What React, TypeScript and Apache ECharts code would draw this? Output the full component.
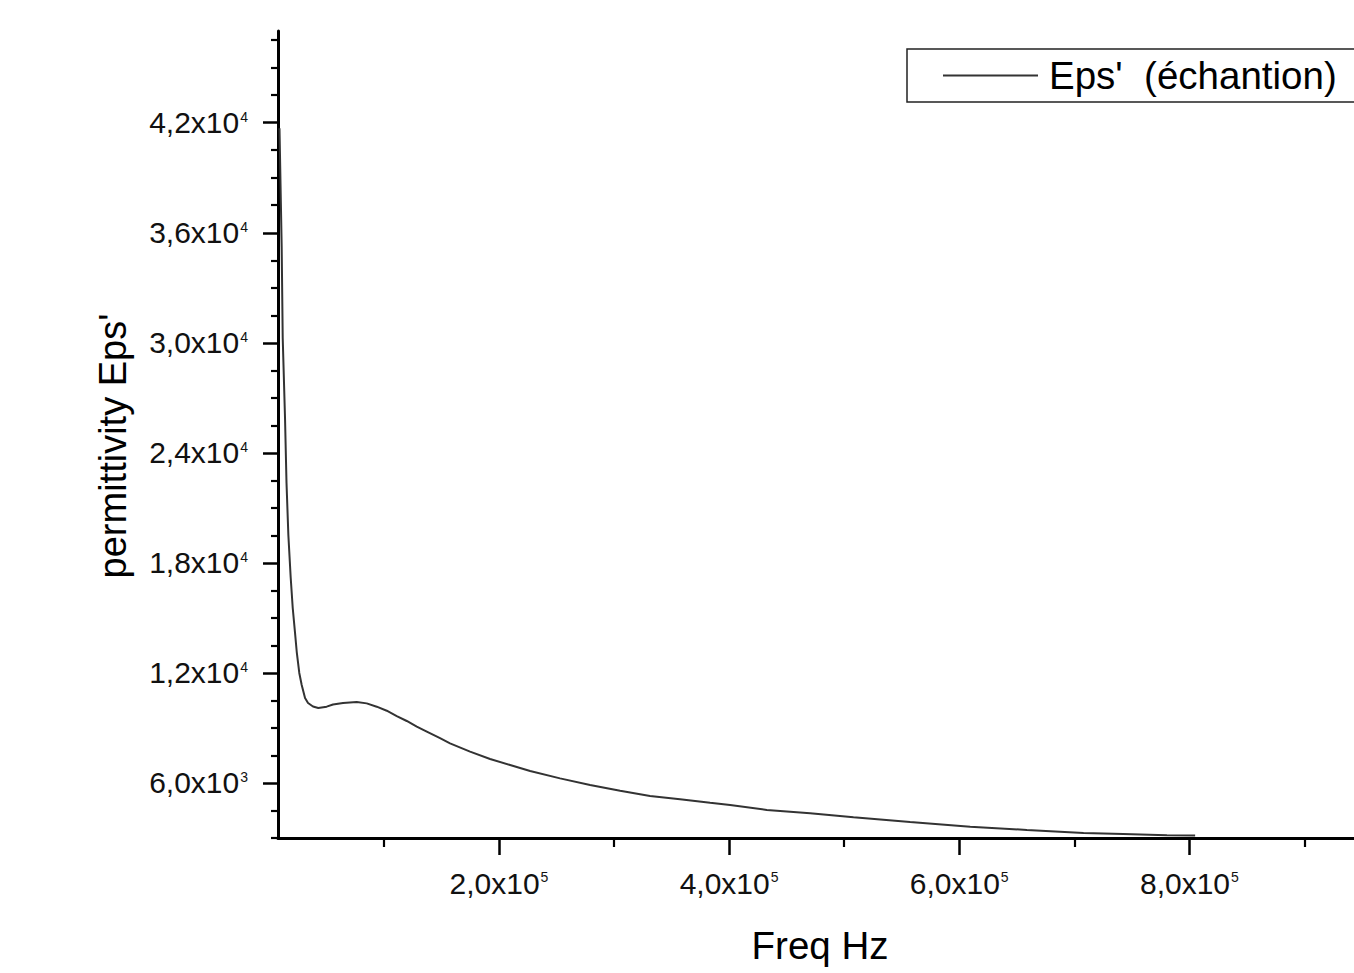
import React, { useEffect, useRef } from "react";
import * as echarts from "echarts";

const freq = [9300, 11200, 12100, 14100, 15400, 17000, 19000, 20800, 22800, 24300, 26500, 28600, 31500, 34100, 38400, 43000, 50300, 55800, 64500, 76400, 85100, 93800, 102500, 111200, 119900, 128600, 137300, 148800, 157500, 174900, 192300, 209700, 227100, 253100, 279200, 305300, 331300, 357400, 383500, 400900, 432800, 470400, 508100, 557300, 609500, 658800, 708000, 742500, 780500, 805000];
const eps = [41700, 35220, 30260, 25900, 22350, 19520, 17230, 15540, 14180, 13140, 12000, 11340, 10630, 10360, 10170, 10090, 10160, 10280, 10360, 10410, 10340, 10160, 9940, 9650, 9380, 9070, 8800, 8440, 8160, 7710, 7310, 6980, 6650, 6250, 5890, 5580, 5290, 5110, 4920, 4800, 4530, 4350, 4130, 3870, 3620, 3440, 3270, 3220, 3150, 3140];

const xMajor = [200000, 400000, 600000, 800000];
const xMinor = [100000, 300000, 500000, 700000, 900000];
const yMajor = [6000, 12000, 18000, 24000, 30000, 36000, 42000];
const yMinor = [3000, 4500, 7500, 9000, 10500, 13500, 15000, 16500, 19500, 21000, 22500, 25500, 27000, 28500, 31500, 33000, 34500, 37500, 39000, 40500, 43500, 45000, 46500];

const seriesName = "Eps'  (échantion)";
const xName = "Freq Hz";
const yName = "permittivity Eps'";

const FONT = "'Liberation Sans', Arial, sans-serif";

function sci(v: number): string {
  const e = Math.floor(Math.log10(v) + 1e-9);
  const m = (v / Math.pow(10, e)).toFixed(1).replace(".", ",");
  return `{m|${m}x10}{s|${e}}`;
}

const rich = {
  m: { fontSize: 30, color: "#111", fontFamily: FONT },
  s: { fontSize: 14, color: "#111", fontFamily: FONT, padding: [0, 0, 12, 1] },
};

export default function App() {
  const ref = useRef<HTMLDivElement>(null);
  useEffect(() => {
    if (!ref.current) return;
    const chart = echarts.init(ref.current, undefined, { renderer: "svg" });
    const axisLineStyle = { color: "#000", width: 3 };
    chart.setOption({
      animation: false,
      backgroundColor: "#fff",
      grid: { left: 278, top: 31, right: 0, bottom: 135 },
      legend: {
        show: true,
        left: 907,
        top: 49,
        orient: "horizontal",
        borderColor: "#222",
        borderWidth: 1.5,
        borderRadius: 0,
        padding: [7, 30, 7, 35],
        itemWidth: 95,
        itemHeight: 20,
        itemStyle: { opacity: 0 },
        lineStyle: { color: "#333", width: 2 },
        textStyle: { fontSize: 38.5, color: "#000", fontFamily: FONT, padding: [0, 0, 0, 6] },
        data: [seriesName],
      },
      xAxis: [
        {
          type: "value",
          min: 8000,
          max: 950000,
          name: xName,
          nameLocation: "middle",
          nameGap: 88,
          nameTextStyle: { fontSize: 38.5, color: "#000", fontFamily: FONT },
          axisLine: { show: true, onZero: false, lineStyle: axisLineStyle },
          axisTick: { show: true, customValues: xMajor, length: 17, lineStyle: { color: "#000", width: 2.5 } },
          axisLabel: { customValues: xMajor, formatter: (v: number) => sci(v), margin: 30, rich },
          splitLine: { show: false },
        },
        {
          type: "value",
          min: 8000,
          max: 950000,
          position: "bottom",
          axisLine: { show: false, onZero: false },
          axisTick: { show: true, customValues: xMinor, length: 9, lineStyle: { color: "#000", width: 2.2 } },
          axisLabel: { show: false },
          splitLine: { show: false },
        },
      ],
      yAxis: [
        {
          type: "value",
          min: 3000,
          max: 47000,
          name: yName,
          nameLocation: "middle",
          nameGap: 146,
          nameTextStyle: { fontSize: 38, color: "#000", fontFamily: FONT, padding: [0, 23, 0, 0] },
          axisLine: { show: true, onZero: false, lineStyle: axisLineStyle },
          axisTick: { show: true, customValues: yMajor, length: 15, lineStyle: { color: "#000", width: 2.5 } },
          axisLabel: { customValues: yMajor, formatter: (v: number) => sci(v), margin: 30, rich },
          splitLine: { show: false },
        },
        {
          type: "value",
          min: 3000,
          max: 47000,
          position: "left",
          axisLine: { show: false, onZero: false },
          axisTick: { show: true, customValues: yMinor, length: 7, lineStyle: { color: "#000", width: 2.2 } },
          axisLabel: { show: false },
          splitLine: { show: false },
        },
      ],
      series: [
        {
          name: seriesName,
          type: "line",
          xAxisIndex: 0,
          yAxisIndex: 0,
          symbol: "none",
          smooth: false,
          lineStyle: { color: "#333", width: 2 },
          itemStyle: { color: "#333" },
          data: freq.map((f, i) => [f, eps[i]]),
        },
      ],
    });
    return () => chart.dispose();
  }, []);
  return (
    <div style={{ position: "fixed", left: 0, top: 0, width: 1354, height: 973, overflow: "hidden", background: "#fff" }}>
      <div ref={ref} style={{ width: 1362, height: 973 }} />
    </div>
  );
}
